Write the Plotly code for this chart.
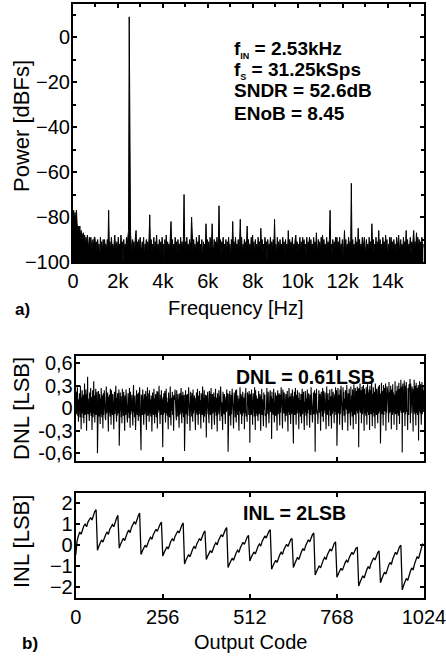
import plotly.graph_objects as go

# ---------------- data ----------------
FS_HZ = 31250
N_FFT = 1024

# FFT magnitude per bin [dBFS] (bins 0..511)
spectrum_dbfs = [
    -80, -77, -82, -78, -84, -77, -83, -86, -84, -87, -84, -89, -86, -90, -88, -87,
    -90, -88, -92, -89, -93, -88, -91, -94, -89, -93, -89, -92, -95, -90, -93, -89,
    -89, -93, -91, -95, -90, -94, -92, -99, -89, -93, -91, -95, -90, -94, -90, -93,
    -92, -95, -90, -94, -77, -93, -91, -96, -89, -93, -92, -95, -90, -88, -93, -94,
    -91, -95, -89, -93, -92, -94, -88, -93, -91, -101, -90, -94, -92, -95, -89, -93,
    -89, -86, 9, -62, -88, -92, -95, -90, -93, -91, -96, -89, -86, -94, -91, -95,
    -90, -94, -89, -93, -95, -91, -94, -89, -98, -92, -93, -90, -95, -91, -94, -89,
    -79, -93, -90, -95, -92, -94, -89, -96, -91, -93, -88, -95, -92, -94, -90, -96,
    -91, -94, -89, -93, -92, -100, -90, -94, -88, -95, -91, -93, -92, -95, -90, -82,
    -93, -90, -95, -92, -94, -89, -93, -91, -97, -90, -93, -92, -95, -89, -94, -91,
    -94, -90, -70, -93, -91, -95, -89, -94, -92, -95, -90, -93, -91, -80, -93, -95,
    -90, -94, -92, -96, -89, -94, -91, -93, -88, -95, -92, -94, -90, -99, -91, -93,
    -92, -95, -83, -93, -90, -94, -91, -96, -89, -94, -92, -83, -93, -95, -90, -94,
    -91, -94, -89, -93, -92, -75, -94, -90, -97, -91, -93, -89, -95, -92, -94, -90,
    -95, -91, -93, -89, -94, -92, -98, -90, -94, -82, -93, -91, -95, -89, -93, -92,
    -94, -90, -94, -91, -81, -93, -89, -96, -92, -94, -90, -95, -91, -93, -84, -93,
    -90, -95, -92, -94, -89, -93, -88, -94, -91, -97, -90, -94, -92, -95, -89, -93,
    -91, -94, -85, -93, -90, -96, -92, -94, -89, -93, -91, -100, -90, -94, -92, -93,
    -89, -95, -91, -94, -90, -93, -81, -94, -92, -97, -89, -93, -91, -95, -90, -94,
    -92, -94, -89, -93, -91, -98, -90, -94, -92, -95, -86, -93, -90, -94, -91, -93,
    -89, -95, -92, -94, -90, -88, -93, -91, -96, -92, -94, -89, -95, -91, -93, -89,
    -93, -90, -94, -92, -97, -89, -94, -91, -93, -89, -95, -90, -94, -92, -95, -89,
    -93, -91, -94, -87, -92, -96, -90, -94, -91, -95, -89, -93, -88, -93, -90, -94,
    -92, -95, -89, -94, -91, -93, -90, -77, -94, -92, -97, -90, -94, -91, -95, -89,
    -93, -89, -94, -91, -94, -89, -95, -92, -93, -90, -99, -91, -86, -94, -90, -95,
    -92, -94, -89, -94, -91, -93, -65, -95, -90, -94, -92, -96, -89, -93, -91, -94,
    -85, -93, -90, -95, -92, -94, -89, -94, -91, -89, -93, -97, -90, -94, -92, -95,
    -89, -93, -91, -94, -83, -93, -90, -96, -92, -94, -89, -95, -91, -93, -86, -94,
    -90, -94, -92, -95, -89, -93, -91, -95, -88, -93, -90, -98, -92, -94, -89, -94,
    -89, -93, -91, -95, -90, -94, -92, -96, -89, -93, -91, -88, -93, -94, -90, -94,
    -92, -95, -89, -94, -91, -93, -86, -94, -90, -95, -92, -93, -89, -97, -91, -94,
    -90, -86, -93, -91, -94, -87, -92, -89, -94, -90, -95, -91, -93, -89, -94, -92,
]
freq_hz = [k * FS_HZ / N_FFT for k in range(len(spectrum_dbfs))]

freq_tick_vals = [0, 2000, 4000, 6000, 8000, 10000, 12000, 14000]
freq_tick_text = ["0", "2k", "4k", "6k", "8k", "10k", "12k", "14k"]
power_tick_vals = [-100, -80, -60, -40, -20, 0]

# DNL in 1/100 LSB, output codes 0..1023
dnl_centi_lsb = [
    5, 22, -8, 15, -3, 28, -10, 12, -18, 10, -5, 20, 2, -12, 30, -4, -28, 14, -7, 24, -2, 11, -13, 18, -20, 6, 33, -9, 16, -4, 25, -11,
    -30, 19, -3, 42, -8, 13, 2, -14, -17, 21, -6, 9, 27, -10, 15, -2, -29, 8, 24, -12, 4, 36, -7, 17, -19, 12, -5, 26, -9, 18, 1, 22,
    -60, 16, -4, 23, -11, 8, 19, -6, -21, 13, -8, 27, 3, -12, 17, -2, -27, 20, -9, 6, 24, -5, 11, -13, -16, 9, 29, -7, 14, -3, 21, -10,
    -31, 15, -6, 18, 2, -11, 26, -4, -22, 24, -2, 10, -9, 19, 5, -12, -28, 7, 22, -8, 16, -4, 30, -6, -18, 14, -10, 20, 4, -7, 12, 25,
    -50, 11, -7, 21, -3, 16, -12, 9, -20, 26, -5, 13, -10, 22, 1, -8, -30, 17, 3, -9, 25, -4, 12, -11, -19, 8, 20, -6, 14, -13, 27, -2,
    -26, 22, -8, 10, -4, 18, -10, 6, -23, 15, 31, -5, 9, -12, 17, -3, -29, 12, -7, 24, 2, -9, 19, -5, -17, 21, -11, 8, 28, -6, 13, 1,
    -56, 18, -4, 11, -9, 25, -2, 14, -22, 7, 19, -8, 13, -5, 23, -12, -29, 16, -3, 28, -10, 9, -6, 20, -18, 24, -7, 12, 3, -11, 17, -4,
    -31, 10, 21, -5, 15, -9, 26, -2, -20, 13, -8, 19, 6, -12, 11, 23, -27, 22, -6, 9, -3, 30, -10, 15, -21, 5, 18, -9, 24, -4, 12, -7,
    -52, 15, -9, 20, 2, -6, 23, -3, -19, 11, 26, -7, 14, -10, 8, -4, -28, 21, -5, 17, -12, 9, 29, -8, -23, 6, 14, -3, 22, -9, 16, -1,
    -30, 18, -7, 11, 25, -5, 13, -10, -16, 24, -4, 9, -11, 19, 3, -6, -26, 12, 20, -8, 15, -2, 27, -9, -20, 17, -6, 22, 7, -12, 10, 18,
    -57, 13, -5, 24, -8, 10, 18, -3, -21, 19, -10, 7, 28, -6, 12, -9, -30, 9, 22, -4, 16, -11, 20, -2, -18, 25, -7, 13, -3, 17, -12, 8,
    -29, 14, -6, 21, 4, -9, 26, -5, -22, 10, 17, -8, 23, -3, 11, -10, -27, 20, -2, 15, -9, 29, 6, -7, -19, 8, 24, -11, 12, -5, 18, 2,
    -39, 17, -8, 12, 22, -4, 9, -11, -20, 23, -3, 16, -9, 11, 27, -6, -28, 7, 19, -7, 13, -2, 21, -12, -22, 15, -5, 26, 3, -10, 14, -4,
    -31, 20, -9, 10, -3, 24, -7, 16, -17, 12, 29, -6, 18, -11, 8, -2, -29, 22, -4, 14, -8, 19, 5, -9, -21, 11, 16, -5, 25, -3, 13, 20,
    -58, 14, -6, 19, -10, 23, 4, -5, -23, 18, -8, 11, 26, -4, 15, -9, -27, 10, 21, -3, 16, -12, 24, -6, -19, 25, -5, 12, -9, 17, 2, -11,
    -30, 13, -4, 28, 6, -8, 19, -3, -21, 16, -10, 22, -2, 11, -7, 14, -28, 9, 20, -6, 27, -11, 12, -4, -18, 21, -7, 15, 3, -9, 23, 10,
    -46, 19, -3, 14, -9, 25, -6, 11, -22, 12, 20, -5, 8, -11, 28, -2, -29, 24, -7, 17, 2, -10, 13, -4, -17, 10, 23, -8, 15, -3, 19, -12,
    -30, 16, -5, 26, -9, 12, 5, -6, -24, 21, -2, 9, 18, -10, 14, -7, -26, 13, 27, -4, 11, -8, 22, -3, -20, 8, -6, 19, 24, -5, 10, 16,
    -41, 22, -7, 13, 4, -9, 26, -2, -19, 15, -4, 21, -10, 9, 17, -6, -30, 11, 24, -8, 14, -3, 20, -11, -23, 18, -6, 10, 28, -5, 12, -9,
    -27, 25, -3, 16, -7, 21, 3, -4, -18, 9, 19, -10, 13, -2, 23, -8, -31, 14, -5, 27, 7, -9, 16, -3, -21, 20, -8, 12, -4, 25, 11, -6,
    -47, 16, -4, 22, -9, 13, 27, -5, -22, 10, 18, -7, 24, -3, 14, -10, -28, 21, -6, 11, 3, -11, 19, -2, -20, 15, 26, -8, 12, -4, 22, -9,
    -29, 9, -5, 23, 17, -10, 13, -3, -23, 25, -7, 14, -2, 20, 6, -11, -26, 18, 8, -9, 28, -4, 15, -6, -19, 12, -3, 21, -8, 16, 24, 2,
    -58, 20, -5, 13, 26, -8, 11, -3, -21, 16, -9, 24, 4, -6, 19, -10, -30, 12, 22, -4, 15, -11, 27, -2, -18, 23, -7, 10, -3, 21, 14, -8,
    -28, 17, 29, -6, 12, -9, 20, -4, -24, 11, -3, 25, 8, -10, 16, -5, -27, 26, -8, 15, -2, 22, 9, -7, -20, 14, 19, -5, 28, -9, 13, 24,
    -50, 21, -4, 27, 10, -7, 18, -2, -22, 25, -8, 14, 30, -5, 20, -9, -29, 16, 28, -3, 22, -10, 13, 5, -19, 24, -6, 18, -2, 31, -8, 15,
    -30, 20, 12, -7, 26, -4, 22, -9, -23, 29, -5, 17, 8, -11, 25, -3, -28, 14, 32, -6, 19, -9, 27, 4, -21, 23, -4, 16, 29, -7, 12, 26,
    -52, 27, -3, 20, 33, -6, 15, 24, -20, 18, 29, -8, 23, -2, 31, -5, -30, 26, -7, 19, 12, -10, 28, -4, -22, 14, 32, -5, 21, -9, 17, 25,
    -29, 30, -4, 24, -8, 16, 35, -2, -24, 19, -6, 28, 10, -11, 22, 3, -27, 33, -5, 18, -9, 26, 14, -3, -20, 22, 29, -7, 15, 31, -4, 20,
    -47, 28, -5, 34, 12, -8, 23, -2, -23, 31, -9, 19, 27, -4, 15, 33, -30, 20, -6, 29, -3, 24, 10, -10, -19, 35, -7, 22, 16, -5, 30, -3,
    -28, 25, 13, -9, 32, -6, 21, 8, -22, 18, -4, 36, -8, 27, -2, 23, -29, 30, 11, -7, 25, -10, 34, -5, -21, 26, -3, 20, 38, -6, 17, 29,
    -59, 24, 33, -6, 28, -3, 37, 12, -24, 30, -8, 22, 35, -5, 19, -2, -29, 27, 14, -9, 32, -4, 25, 39, -20, 33, -7, 21, -3, 29, 16, -10,
    -31, 26, -5, 38, 11, -8, 30, -2, -23, 34, 18, -6, 27, -9, 22, 31, -43, 28, -4, 36, 13, -7, 32, -3, -22, 25, 35, -8, 20, 30, -5, 24,
]
dnl_codes = list(range(len(dnl_centi_lsb)))
dnl_lsb = [v / 100 for v in dnl_centi_lsb]
dnl_tick_vals = [-0.6, -0.3, 0, 0.3, 0.6]
dnl_tick_text = ["-0,6", "-0,3", "0", "0,3", "0,6"]

# INL in 1/100 LSB, every 4th output code 0..1020
inl_codes = list(range(0, 1024, 4))
inl_centi_lsb = [
    -47, 20, 45, 63, 52, 75, 92, 100, 88, 110, 125, 132, 120, 145, 160, 169,
    -24, -5, 12, 25, 15, 38, 50, 62, 52, 75, 88, 98, 88, 112, 128, 142,
    -14, 5, 20, 33, 22, 45, 60, 72, 60, 85, 100, 112, 100, 125, 140, 153,
    -44, -28, -12, 0, -10, 12, 26, 38, 28, 50, 64, 76, 66, 86, 100, 110,
    -52, -35, -20, -8, -18, 5, 20, 30, 20, 42, 56, 68, 58, 80, 95, 106,
    -90, -72, -57, -45, -55, -32, -18, -6, -16, 6, 20, 32, 22, 44, 58, 68,
    -68, -52, -38, -26, -36, -14, 0, 12, 2, 24, 38, 50, 40, 60, 74, 84,
    -106, -90, -75, -62, -72, -50, -36, -24, -34, -12, 2, 14, 4, 25, 38, 47,
    -75, -58, -44, -32, -42, -20, -6, 6, -4, 18, 32, 44, 34, 54, 66, 74,
    -115, -98, -84, -72, -82, -60, -46, -34, -44, -22, -8, 4, -6, 14, 26, 32,
    -106, -88, -72, -58, -68, -44, -30, -16, -26, -2, 14, 26, 16, 38, 50, 58,
    -142, -125, -110, -98, -108, -85, -70, -58, -68, -45, -30, -18, -28, -6, 8, 16,
    -153, -137, -122, -110, -120, -98, -84, -72, -82, -60, -46, -34, -44, -24, -14, -11,
    -194, -176, -160, -146, -156, -132, -116, -102, -112, -88, -72, -60, -70, -48, -35, -27,
    -179, -160, -143, -128, -138, -113, -96, -82, -92, -66, -48, -34, -44, -20, -8, 0,
    -213, -192, -174, -158, -168, -142, -124, -108, -118, -90, -70, -54, -64, -38, -14, 8,
]
inl_lsb = [v / 100 for v in inl_centi_lsb]
inl_tick_vals = [-2, -1, 0, 1, 2]
code_tick_vals = [0, 256, 512, 768, 1024]

SUB = "<sub><span style='font-size:9px'>{}</span></sub>"
spec_notes = ["f" + SUB.format("IN") + " = 2.53kHz", "f" + SUB.format("S") + " = 31.25kSps",
              "SNDR = 52.6dB", "ENoB = 8.45"]

# ---------------- figure ----------------
W, H = 446, 657
FONT = "Liberation Sans, Arial, Helvetica, sans-serif"
BLACK = "#000000"

def px(x):
    return x / W

def py(y):
    return 1 - y / H

fig = go.Figure()

# baseline helper for the filled spectrum
fig.add_trace(go.Scatter(x=[freq_hz[0], freq_hz[-1]], y=[-130, -130], mode="lines",
                         line=dict(width=0, color=BLACK), hoverinfo="skip",
                         showlegend=False, xaxis="x", yaxis="y"))
fig.add_trace(go.Scatter(x=freq_hz, y=spectrum_dbfs, mode="lines", fill="tonexty",
                         fillcolor=BLACK, line=dict(color=BLACK, width=1),
                         showlegend=False, xaxis="x", yaxis="y"))
fig.add_trace(go.Scatter(x=dnl_codes, y=dnl_lsb, mode="lines",
                         line=dict(color=BLACK, width=1.1),
                         showlegend=False, xaxis="x2", yaxis="y2"))
fig.add_trace(go.Scatter(x=inl_codes, y=inl_lsb, mode="lines",
                         line=dict(color=BLACK, width=1.3),
                         showlegend=False, xaxis="x3", yaxis="y3"))

tickfont = dict(family=FONT, size=20, color=BLACK)
common = dict(showline=True, linewidth=2, linecolor=BLACK, mirror="ticks",
              ticks="inside", ticklen=4, tickwidth=1.5, tickcolor=BLACK,
              showgrid=False, zeroline=False, tickfont=tickfont,
              automargin=False, ticklabeloverflow="allow")
ycommon = dict(common, ticklabelstandoff=-3)

x_dom_top = [px(73), px(424)]
x_dom_bot = [px(75.7), px(424)]

fig.update_layout(
    width=W, height=H, autosize=False,
    margin=dict(l=0, r=0, t=0, b=0, pad=0, autoexpand=False),
    paper_bgcolor="white", plot_bgcolor="white", showlegend=False,
    xaxis=dict(domain=x_dom_top, anchor="y", range=[0, FS_HZ / 2],
               tickmode="array", tickvals=freq_tick_vals, ticktext=freq_tick_text,
               minor=dict(dtick=1000, ticks="inside", ticklen=3, tickcolor=BLACK),
               **common),
    yaxis=dict(domain=[py(262), py(4)], anchor="x", range=[-100, 14.7],
               tickmode="array", tickvals=power_tick_vals,
               minor=dict(dtick=10, ticks="inside", ticklen=3, tickcolor=BLACK),
               **ycommon),
    xaxis2=dict(domain=x_dom_bot, anchor="y2", range=[0, 1024],
                tickmode="array", tickvals=code_tick_vals, showticklabels=False,
                **common),
    yaxis2=dict(domain=[py(460.7), py(355.7)], anchor="x2", range=[-0.7, 0.7],
                tickmode="array", tickvals=dnl_tick_vals, ticktext=dnl_tick_text,
                **ycommon),
    xaxis3=dict(domain=x_dom_bot, anchor="y3", range=[0, 1024],
                tickmode="array", tickvals=code_tick_vals, **common),
    yaxis3=dict(domain=[py(597.7), py(492.7)], anchor="x3", range=[-2.5, 2.5],
                tickmode="array", tickvals=inl_tick_vals, **ycommon),
)

def note(text, x, y, size, bold=False, angle=0, xanchor="center"):
    t = f"<b>{text}</b>" if bold else text
    fig.add_annotation(text=t, x=px(x), y=py(y), xref="paper", yref="paper",
                       showarrow=False, textangle=angle, xanchor=xanchor,
                       yanchor="middle",
                       font=dict(family=FONT, size=size, color=BLACK))

note("Power [dBFs]", 21, 126, 22, angle=-90)
note("Frequency [Hz]", 236, 308, 20)
note("a)", 22, 309, 17, bold=True)
note("DNL [LSB]", 21, 409, 22, angle=-90)
note("INL [LSB]", 21, 542, 22, angle=-90)
note("Output Code", 251, 642, 20)
note("b)", 30, 643, 17, bold=True)
for txt, yy in zip(spec_notes, [49, 70.5, 91, 113]):
    note(txt, 232, yy, 19, bold=True, xanchor="left")
note("DNL = 0.61LSB", 305, 377, 19.5, bold=True)
note("INL = 2LSB", 294, 513, 19.5, bold=True)

fig.write_html("out.html", config={"displayModeBar": False, "responsive": False},
               post_script="document.body.style.margin='0px';"
                           "document.body.style.overflow='hidden';")
